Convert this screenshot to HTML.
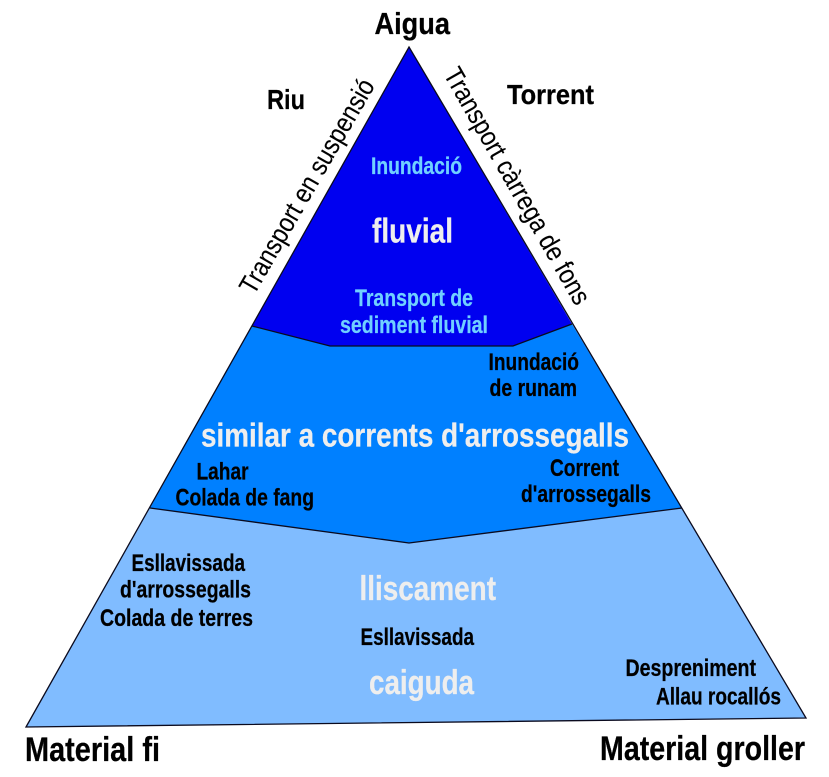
<!DOCTYPE html>
<html><head><meta charset="utf-8"><style>
html,body{margin:0;padding:0;background:#fff;width:829px;height:777px;overflow:hidden}
svg{display:block}
text{font-family:"Liberation Sans",Arial,sans-serif;font-weight:bold;fill:#000;stroke:#000;stroke-width:.25px}
.c{fill:#70d0ff;stroke:#70d0ff}.w{fill:#eeeeee;stroke:#eeeeee}
</style></head><body>
<svg width="829" height="777" viewBox="0 0 829 777" xmlns="http://www.w3.org/2000/svg">
<polygon points="26,727 150,508 409,543 682,508 806,718" fill="#80bcff"/>
<polygon points="150,508 252,326 330,346 513,346 572,324 682,508 409,543" fill="#0080ff"/>
<polygon points="409,47 252,326 330,346 513,346 572,324" fill="#0000f0"/>
<g fill="none" stroke="#0a0a1e" stroke-width="1.3">
<polygon points="409,47 806,718 26,727"/>
<polyline points="252,326 330,346 513,346 572,324"/>
<polyline points="150,508 409,543 682,508"/>
</g>
<g>
<text x="374.5" y="34" font-size="31" textLength="75.5" lengthAdjust="spacingAndGlyphs">Aigua</text>
<text x="267" y="109" font-size="28" textLength="38" lengthAdjust="spacingAndGlyphs">Riu</text>
<text x="507" y="104" font-size="28" textLength="87" lengthAdjust="spacingAndGlyphs">Torrent</text>
<text class="c" x="371" y="174" font-size="24" textLength="91" lengthAdjust="spacingAndGlyphs">Inundació</text>
<text class="w" x="372" y="242.5" font-size="34" textLength="81" lengthAdjust="spacingAndGlyphs">fluvial</text>
<text class="c" x="355" y="306" font-size="24" textLength="118" lengthAdjust="spacingAndGlyphs">Transport de</text>
<text class="c" x="340" y="333" font-size="24" textLength="148" lengthAdjust="spacingAndGlyphs">sediment fluvial</text>
<text x="488.5" y="370" font-size="24" textLength="90.5" lengthAdjust="spacingAndGlyphs">Inundació</text>
<text x="489.5" y="396" font-size="24" textLength="87.5" lengthAdjust="spacingAndGlyphs">de runam</text>
<text class="w" x="201" y="446.5" font-size="33" textLength="428" lengthAdjust="spacingAndGlyphs">similar a corrents d'arrossegalls</text>
<text x="196.5" y="479.5" font-size="24" textLength="52" lengthAdjust="spacingAndGlyphs">Lahar</text>
<text x="175.5" y="505.5" font-size="24" textLength="138.5" lengthAdjust="spacingAndGlyphs">Colada de fang</text>
<text x="550" y="476" font-size="24" textLength="69" lengthAdjust="spacingAndGlyphs">Corrent</text>
<text x="521" y="502" font-size="24" textLength="130" lengthAdjust="spacingAndGlyphs">d'arrossegalls</text>
<text x="131.5" y="571" font-size="24" textLength="113.5" lengthAdjust="spacingAndGlyphs">Esllavissada</text>
<text x="120" y="597.5" font-size="24" textLength="131" lengthAdjust="spacingAndGlyphs">d'arrossegalls</text>
<text x="100" y="626" font-size="24" textLength="153" lengthAdjust="spacingAndGlyphs">Colada de terres</text>
<text class="w" x="359.5" y="600" font-size="34" textLength="136.5" lengthAdjust="spacingAndGlyphs">lliscament</text>
<text x="360.5" y="645" font-size="24" textLength="113.5" lengthAdjust="spacingAndGlyphs">Esllavissada</text>
<text class="w" x="369" y="694" font-size="34" textLength="105" lengthAdjust="spacingAndGlyphs">caiguda</text>
<text x="625.5" y="676" font-size="24" textLength="130.5" lengthAdjust="spacingAndGlyphs">Despreniment</text>
<text x="656" y="704.5" font-size="24" textLength="125" lengthAdjust="spacingAndGlyphs">Allau rocallós</text>
<text x="25" y="761" font-size="34" textLength="135" lengthAdjust="spacingAndGlyphs">Material fi</text>
<text x="600" y="760" font-size="34" textLength="205" lengthAdjust="spacingAndGlyphs">Material groller</text>
<text transform="translate(254,296) rotate(-60)" font-size="27" style="font-weight:normal;stroke-width:.1px" textLength="243" lengthAdjust="spacingAndGlyphs">Transport en suspensió</text>
<text transform="translate(443,74) rotate(60.3)" font-size="27" style="font-weight:normal;stroke-width:.1px" textLength="268" lengthAdjust="spacingAndGlyphs">Transport càrrega de fons</text>
</g>
</svg>
</body></html>
